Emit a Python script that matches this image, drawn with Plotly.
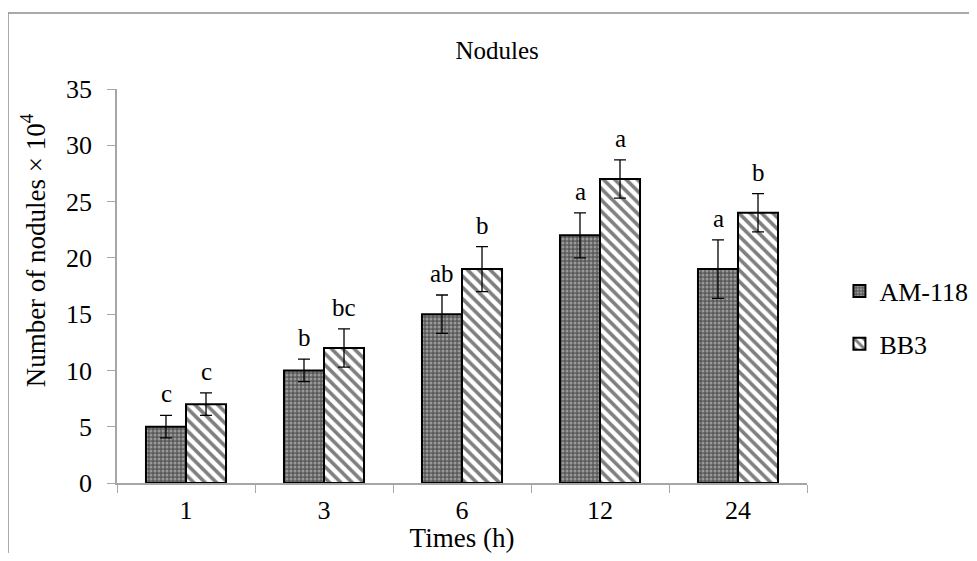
import plotly.graph_objects as go

categories = ["1", "3", "6", "12", "24"]
am118 = [5, 10, 15, 22, 19]
am118_err = [1.0, 1.0, 1.7, 2.0, 2.6]
bb3 = [7, 12, 19, 27, 24]
bb3_err = [1.0, 1.7, 2.0, 1.7, 1.7]
am118_letters = ["c", "b", "ab", "a", "a"]
bb3_letters = ["c", "bc", "b", "a", "b"]

FONT = "Liberation Serif, Times New Roman, serif"

fig = go.Figure()
fig.add_trace(go.Bar(
    name="AM-118", x=categories, y=am118, legendgroup="g1",
    error_y=dict(type="data", array=am118_err, color="black", thickness=1.3, width=6),
    marker=dict(color="#5a5a5a", line=dict(color="black", width=2),
                pattern=dict(shape=".", fgcolor="#d8d8d8", bgcolor="#5a5a5a", size=4, solidity=0.45)),
))
fig.add_trace(go.Bar(
    name="BB3", x=categories, y=bb3, legendgroup="g2",
    error_y=dict(type="data", array=bb3_err, color="black", thickness=1.3, width=6),
    marker=dict(color="white", line=dict(color="black", width=2),
                pattern=dict(shape="\\", fgcolor="black", bgcolor="white", size=8, solidity=0.45)),
))

for i, (v, e, t) in enumerate(zip(am118, am118_err, am118_letters)):
    fig.add_annotation(x=i, y=v + e, text=t, showarrow=False, xshift=-20, yshift=6,
                       yanchor="bottom", font=dict(family=FONT, size=25, color="black"))
for i, (v, e, t) in enumerate(zip(bb3, bb3_err, bb3_letters)):
    fig.add_annotation(x=i, y=v + e, text=t, showarrow=False, xshift=20, yshift=6,
                       yanchor="bottom", font=dict(family=FONT, size=25, color="black"))

# y-axis title
fig.add_annotation(xref="paper", yref="paper", x=-0.122, y=0.59, text="Number of nodules × 10<sup>4</sup>",
                   textangle=-90, showarrow=False, xanchor="center", yanchor="middle",
                   font=dict(family=FONT, size=27, color="black"))

# outer chart-area border (left and top)
fig.add_shape(type="line", xref="paper", yref="paper", x0=-0.158, x1=1.3, y0=1.193, y1=1.193,
              line=dict(color="#8c8c8c", width=1.5))
fig.add_shape(type="line", xref="paper", yref="paper", x0=-0.158, x1=-0.158, y0=-0.3, y1=1.193,
              line=dict(color="#8c8c8c", width=1.5))

fig.update_layout(
    width=961, height=545,
    margin=dict(l=109, r=162, t=81, b=70, autoexpand=False),
    paper_bgcolor="white", plot_bgcolor="white",
    barmode="group", bargap=0.42, bargroupgap=0,
    font=dict(family=FONT, size=25, color="black"),
    title=dict(text="Nodules", x=0.509, xref="container", xanchor="center",
               y=0.923, yref="container", yanchor="middle",
               font=dict(family=FONT, size=25, color="black")),
    showlegend=True,
    legend=dict(x=1.047, y=0.42, xanchor="left", yanchor="middle",
                font=dict(family=FONT, size=26, color="black"),
                tracegroupgap=16, itemwidth=30),
    xaxis=dict(type="category", automargin=False,
               title=dict(text="Times (h)", font=dict(family=FONT, size=27), standoff=12),
               showline=True, linecolor="#a6a6a6", linewidth=1.5,
               ticks="outside", tickson="boundaries", tickcolor="#a6a6a6", ticklen=8,
               showgrid=False, tickangle=0, ticklabelstandoff=3, tickfont=dict(family=FONT, size=26)),
    yaxis=dict(range=[0, 35], dtick=5, automargin=False, showline=True, linecolor="#a6a6a6", linewidth=1.5,
               ticks="outside", tickcolor="#a6a6a6", ticklen=8, ticklabelstandoff=10,
               showgrid=False, zeroline=False, tickfont=dict(family=FONT, size=26)),
)

fig.write_html("out.html")
